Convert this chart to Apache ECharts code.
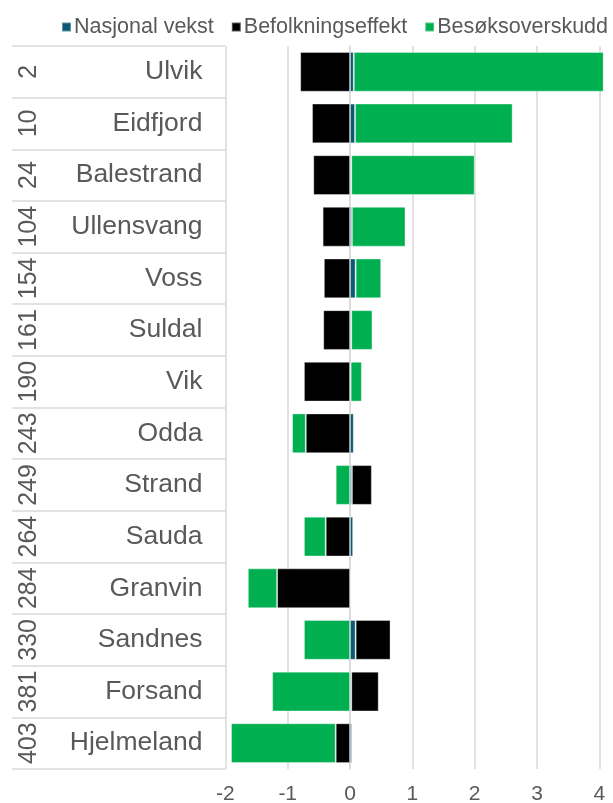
<!DOCTYPE html>
<html>
<head>
<meta charset="utf-8">
<script src="https://cdn.jsdelivr.net/npm/echarts@6/dist/echarts.min.js"></script>
<style>
  html, body { margin: 0; padding: 0; background: #fff; }
  #chart { width: 613px; height: 803px; }
</style>
</head>
<body>
<div id="chart"></div>
<script>
// kommuner og rangering
const categories = ['Ulvik', 'Eidfjord', 'Balestrand', 'Ullensvang', 'Voss', 'Suldal', 'Vik', 'Odda', 'Strand', 'Sauda', 'Granvin', 'Sandnes', 'Forsand', 'Hjelmeland']
const ranks = ['2', '10', '24', '104', '154', '161', '190', '243', '249', '264', '284', '330', '381', '403']

// verdier lest av figuren
const nasjonalVekst = [0.06, 0.08, 0.02, 0.03, 0.09, 0.02, 0.01, 0.06, 0.03, 0.05, 0.01, 0.09, 0.02, 0.03]
const befolkningseffekt = [-0.80, -0.61, -0.59, -0.44, -0.42, -0.43, -0.74, -0.71, 0.32, -0.39, -1.17, 0.56, 0.44, -0.23]
const besoksoverskudd = [4.01, 2.53, 1.98, 0.86, 0.41, 0.34, 0.18, -0.22, -0.23, -0.35, -0.47, -0.74, -1.25, -1.68]

const xTicks = { min: -2, max: 5, interval: 1 }

const FONT = '"Liberation Sans", Arial, sans-serif'
const GRAY = '#595959'
const LINE = '#d9d9d9'

const chart = echarts.init(document.getElementById('chart'))

const barStyle = (color) => ({
  color: color,
  borderColor: 'rgba(255,255,255,0.35)',
  borderWidth: 1
})

const option = {
  animation: false,
  textStyle: { fontFamily: FONT },
  legend: {
    top: 11,
    left: 56,
    width: 900,
    itemWidth: 9,
    itemHeight: 9,
    itemGap: 17,
    icon: 'rect',
    textStyle: { fontSize: 21.5, color: GRAY, fontFamily: FONT, padding: [0, 0, 0, -2] },
    data: ['Nasjonal vekst', 'Befolkningseffekt', 'Besøksoverskudd']
  },
  // diagrammet er beskåret til høyre, så aksen går forbi bildekanten
  grid: {
    left: 225.4,
    width: 436.2,
    top: 46,
    height: 723,
    outerBoundsMode: 'none',
    containLabel: false
  },
  xAxis: {
    type: 'value',
    min: xTicks.min,
    max: xTicks.max,
    interval: xTicks.interval,
    axisLine: { show: false },
    axisTick: { show: false },
    splitLine: { lineStyle: { color: LINE, width: 1.5 } },
    axisLabel: { fontSize: 21, color: GRAY, margin: 15, fontFamily: FONT }
  },
  yAxis: [
    {
      type: 'category',
      data: categories,
      inverse: true,
      axisLine: { show: true, lineStyle: { color: LINE, width: 1.5 } },
      axisTick: { show: false },
      axisLabel: { interval: 0, fontSize: 26.5, color: GRAY, margin: 23, fontFamily: FONT }
    },
    {
      type: 'category',
      data: ranks,
      inverse: true,
      position: 'left',
      offset: 213,
      axisLine: { show: false },
      axisTick: { show: true, inside: true, length: 213, lineStyle: { color: LINE, width: 1.5 } },
      axisLabel: { interval: 0, fontSize: 25, color: GRAY, rotate: 90, margin: -29, fontFamily: FONT }
    }
  ],
  series: [
    {
      name: 'Nasjonal vekst',
      type: 'bar',
      stack: 'total',
      barWidth: '77%',
      itemStyle: barStyle('#0b5a73'),
      data: nasjonalVekst
    },
    {
      name: 'Befolkningseffekt',
      type: 'bar',
      stack: 'total',
      barWidth: '77%',
      itemStyle: barStyle('#000000'),
      data: befolkningseffekt
    },
    {
      name: 'Besøksoverskudd',
      type: 'bar',
      stack: 'total',
      barWidth: '77%',
      itemStyle: barStyle('#00b050'),
      data: besoksoverskudd
    }
  ]
}

chart.setOption(option)
</script>
</body>
</html>
